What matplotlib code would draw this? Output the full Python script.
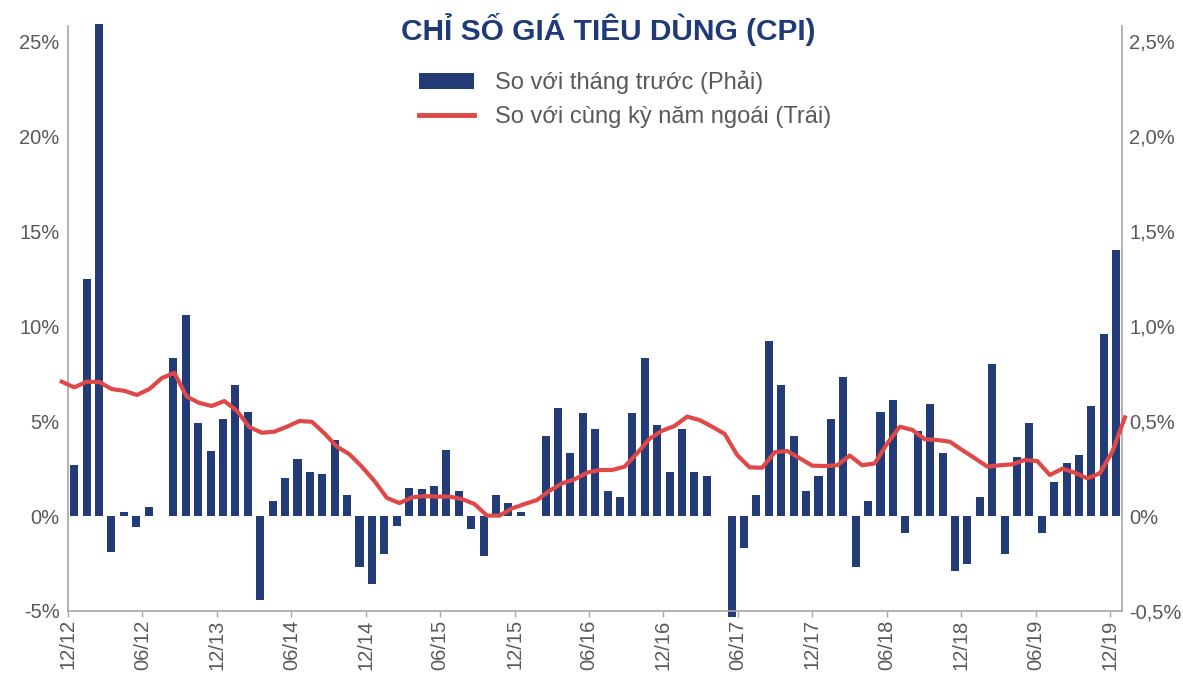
import numpy as np
import matplotlib
matplotlib.use("Agg")
import matplotlib.pyplot as plt
from matplotlib.patches import Patch
from matplotlib.lines import Line2D

plt.rcParams['font.family'] = ['Liberation Sans', 'DejaVu Sans']

# Monthly CPI change vs previous month (%), right axis, 12/2012 .. 12/2019
mom = [0.27, 1.25, 2.59, -0.19, 0.02, -0.06, 0.05, 0.0, 0.83, 1.06,
       0.49, 0.34, 0.51, 0.69, 0.55, -0.44, 0.08, 0.20, 0.30, 0.23,
       0.22, 0.40, 0.11, -0.27, -0.36, -0.20, -0.05, 0.15, 0.14, 0.16,
       0.35, 0.13, -0.07, -0.21, 0.11, 0.07, 0.02, 0.0, 0.42, 0.57,
       0.33, 0.54, 0.46, 0.13, 0.10, 0.54, 0.83, 0.48, 0.23, 0.46,
       0.23, 0.21, 0.0, -0.53, -0.17, 0.11, 0.92, 0.69, 0.42, 0.13,
       0.21, 0.51, 0.73, -0.27, 0.08, 0.55, 0.61, -0.09, 0.45, 0.59,
       0.33, -0.29, -0.25, 0.10, 0.80, -0.20, 0.31, 0.49, -0.09, 0.18,
       0.28, 0.32, 0.58, 0.96, 1.40]

# CPI change vs same month previous year (%), left axis, 11/2012 .. 12/2019
yoy = [7.07, 6.77, 7.07, 7.05, 6.68, 6.59, 6.37, 6.68, 7.26, 7.53,
       6.28, 5.95, 5.79, 6.05, 5.54, 4.68, 4.38, 4.44, 4.70, 5.00,
       4.96, 4.35, 3.65, 3.25, 2.59, 1.84, 0.95, 0.68, 0.98, 1.05,
       1.02, 1.02, 0.89, 0.63, 0.02, 0.02, 0.40, 0.63, 0.84, 1.33,
       1.72, 1.93, 2.28, 2.42, 2.42, 2.60, 3.30, 4.07, 4.49, 4.74,
       5.23, 5.05, 4.70, 4.32, 3.21, 2.56, 2.54, 3.36, 3.42, 3.04,
       2.65, 2.63, 2.67, 3.18, 2.67, 2.77, 3.82, 4.70, 4.53, 4.04,
       4.00, 3.91, 3.47, 3.04, 2.60, 2.67, 2.72, 2.95, 2.89, 2.16,
       2.49, 2.28, 1.98, 2.25, 3.39, 5.19]

tick_labels = ['12/12', '06/12', '12/13', '06/14', '12/14', '06/15', '12/15',
               '06/16', '12/16', '06/17', '12/17', '06/18', '12/18', '06/19', '12/19']

title = 'CHỈ SỐ GIÁ TIÊU DÙNG (CPI)'
label_bar = 'So với tháng trước (Phải)'
label_line = 'So với cùng kỳ năm ngoái (Trái)'

NAVY = '#233C78'
RED = '#E04848'
GRAY_TXT = '#595959'
GRAY_AX = '#A6A6A6'

W, H = 1183, 673
fig = plt.figure(figsize=(W / 100, H / 100), dpi=100)
rect = [68 / W, 62 / H, 1054.4 / W, 585 / H]

# Bars axis (right scale)
axb = fig.add_axes(rect)
x_bar = np.arange(len(mom))
axb.bar(x_bar, mom, width=0.65, color=NAVY, clip_on=False, zorder=2)
axb.set_xlim(-0.5, len(mom) - 0.5)
axb.set_ylim(-0.5, 2.579)
axb.yaxis.tick_right()
rt = [-0.5, 0, 0.5, 1.0, 1.5, 2.0, 2.5]
axb.set_yticks(rt)
axb.set_yticklabels(['-0,5%', '0%', '0,5%', '1,0%', '1,5%', '2,0%', '2,5%'])
axb.tick_params(axis='y', length=0, pad=5, labelsize=14.5, labelcolor=GRAY_TXT)
xt = np.arange(0, len(mom) + 1, 6) - 0.5
axb.set_xticks(xt)
axb.set_xticklabels(tick_labels, rotation=90)
axb.tick_params(axis='x', length=4, width=1, color=GRAY_AX, pad=2,
                labelsize=14.5, labelcolor=GRAY_TXT)
for s in ['left', 'right', 'bottom']:
    axb.spines[s].set_color(GRAY_AX)
    axb.spines[s].set_linewidth(1.2)
axb.spines['top'].set_visible(False)

# Line axis (left scale)
axl = fig.add_axes(rect, facecolor='none')
x_line = np.arange(len(yoy))
axl.plot(x_line, yoy, color=RED, lw=3.0, clip_on=False, zorder=3,
         solid_joinstyle='round')
axl.set_xlim(0.5, 84.8)
axl.set_ylim(-5, 25.79)
axl.set_yticks([-5, 0, 5, 10, 15, 20, 25])
axl.set_yticklabels(['-5%', '0%', '5%', '10%', '15%', '20%', '25%'])
axl.tick_params(axis='y', length=0, pad=6, labelsize=14.5, labelcolor=GRAY_TXT)
axl.set_xticks([])
for s in axl.spines.values():
    s.set_visible(False)

fig.text(608 / W, 1 - 30 / H, title, ha='center', va='center',
         fontsize=21.5, fontweight='bold', color='#1F3A78')

handles = [Patch(facecolor=NAVY, edgecolor='none'),
           Line2D([0], [0], color=RED, lw=3.5)]
fig.legend(handles, [label_bar, label_line], loc='upper left',
           bbox_to_anchor=(402 / W, 1 - 54 / H), frameon=False,
           fontsize=17, labelcolor=GRAY_TXT, handlelength=2.33,
           handleheight=0.65, handletextpad=0.9, labelspacing=0.5,
           borderpad=0.2)

fig.savefig('out.png', dpi=100)
